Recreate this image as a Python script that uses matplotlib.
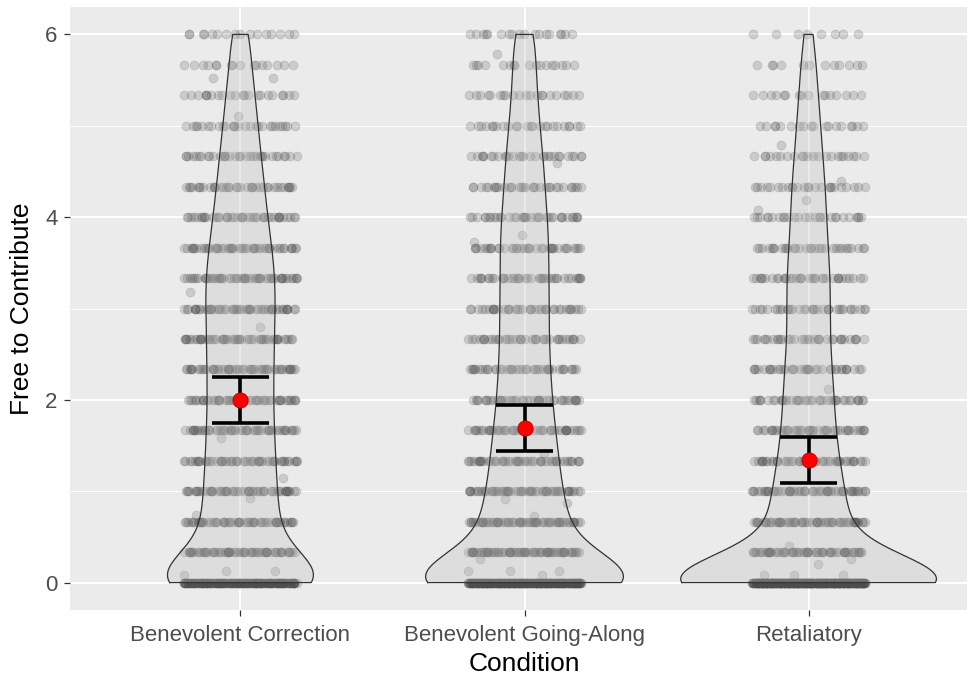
import numpy as np
import matplotlib
matplotlib.use('Agg')
import matplotlib.pyplot as plt

plt.rcParams['font.family'] = ['Liberation Sans', 'DejaVu Sans']

conditions = ['Benevolent Correction', 'Benevolent Going-Along', 'Retaliatory']

# response levels (scale steps of one third)
levels = [0, 1/3, 2/3, 1, 4/3, 5/3, 2, 7/3, 8/3, 3, 10/3, 11/3, 4,
          13/3, 14/3, 5, 16/3, 17/3, 6]

# number of responses at each level, per condition
counts_bc = [196, 67, 60, 57, 55, 53, 52, 53, 53, 54, 55, 50, 43, 38, 33, 27, 22, 16, 16]
counts_bga = [276, 77, 69, 59, 54, 49, 44, 41, 39, 39, 39, 37, 36, 32, 29, 24, 21, 17, 18]
counts_ret = [380, 66, 65, 58, 49, 43, 40, 37, 34, 34, 35, 31, 27, 25, 22, 18, 16, 12, 8]

# responses that fall between the scale steps
extra_bc = [5.52, 5.52, 5.11, 3.18, 2.80, 1.58, 1.14, 0.93, 0.74, 0.13, 0.13, 0.08]
extra_bga = [5.79, 4.59, 3.80, 3.73, 1.42, 0.92, 0.87, 0.73, 0.26, 0.13, 0.13, 0.13, 0.08]
extra_ret = [4.79, 4.40, 4.19, 4.08, 2.12, 0.40, 0.26, 0.20, 0.08, 0.08, 0.08]

# means with interval bounds
means = [2.00, 1.69, 1.34]
ci_low = [1.75, 1.44, 1.09]
ci_high = [2.25, 1.94, 1.59]

BW = 0.28


def build_values(counts, extra):
    vals = np.repeat(np.array(levels), counts)
    return np.concatenate([vals, np.array(extra)])


def kde(values, grid, bw):
    z = (grid[:, None] - values[None, :]) / bw
    return np.exp(-0.5 * z ** 2).sum(axis=1) / (len(values) * bw * np.sqrt(2 * np.pi))


def spread(n, phase):
    # golden-ratio steps with a small wobble, spread over [-0.2, 0.2]
    i = np.arange(n)
    u = (i * 0.618034 + 0.05 * np.sin(i * 2.71 + phase * 7.0) + phase) % 1.0
    return (u - 0.5) * 0.4


def jitter_points(ax, pos, counts, extra):
    xs, ys = [], []
    for k, (lev, n) in enumerate(zip(levels, counts)):
        xs.append(pos + spread(n, k * 0.377 + pos * 0.19))
        ys.append(np.full(n, lev))
    xs.append(pos + spread(len(extra), 0.21))
    ys.append(np.array(extra))
    ax.scatter(np.concatenate(xs), np.concatenate(ys), s=40, color='#4D4D4D',
               alpha=0.2, linewidths=0.6, zorder=2)


def main():
    groups = [(counts_bc, extra_bc), (counts_bga, extra_bga), (counts_ret, extra_ret)]

    fig = plt.figure(figsize=(9.67, 6.8), dpi=100)
    ax = fig.add_axes([70 / 967, 70 / 680, 909 / 967, 603 / 680])
    ax.set_facecolor('#EBEBEB')
    for s in ax.spines.values():
        s.set_visible(False)

    ax.set_xlim(0.4, 3.6)
    ax.set_ylim(-0.3, 6.3)

    # grid
    for y in [1, 3, 5]:
        ax.axhline(y, color='white', lw=0.7, zorder=0)
    for y in [0, 2, 4, 6]:
        ax.axhline(y, color='white', lw=1.4, zorder=0)
    for x in [1, 2, 3]:
        ax.axvline(x, color='white', lw=1.4, zorder=0)

    # densities, scaled so every violin has the same area
    dens = []
    for counts, extra in groups:
        vals = build_values(counts, extra)
        grid = np.linspace(vals.min(), vals.max(), 512)
        dens.append((grid, kde(vals, grid, BW)))
    dmax = max(d.max() for _, d in dens)

    for i, ((counts, extra), (grid, d)) in enumerate(zip(groups, dens)):
        pos = i + 1
        jitter_points(ax, pos, counts, extra)
        w = 0.45 * d / dmax
        xv = np.concatenate([pos - w, (pos + w)[::-1], [pos - w[0]]])
        yv = np.concatenate([grid, grid[::-1], [grid[0]]])
        ax.fill(xv, yv, facecolor='#BEBEBE', alpha=0.3, edgecolor='none', zorder=3)
        ax.plot(xv, yv, color='#333333', lw=0.9, zorder=4)

    # means and intervals
    x = np.arange(1, 4)
    ax.vlines(x, ci_low, ci_high, color='black', lw=2.6, zorder=5)
    ax.hlines(ci_low, x - 0.1, x + 0.1, color='black', lw=2.6, zorder=5)
    ax.hlines(ci_high, x - 0.1, x + 0.1, color='black', lw=2.6, zorder=5)
    ax.scatter(x, means, s=120, color='red', edgecolors='#B00000', linewidths=0.6, zorder=6)

    ax.set_xticks([1, 2, 3])
    ax.set_xticklabels(conditions)
    ax.set_yticks([0, 2, 4, 6])
    ax.tick_params(axis='both', length=4, width=0.9, color='#333333',
                   labelcolor='#4D4D4D', labelsize=16)
    ax.tick_params(axis='x', pad=7)
    ax.tick_params(axis='y', pad=5)
    ax.set_xlabel('Condition', fontsize=19, labelpad=4)
    ax.set_ylabel('Free to Contribute', fontsize=19, labelpad=8)

    fig.savefig('out.png', dpi=100)


if __name__ == '__main__':
    main()
